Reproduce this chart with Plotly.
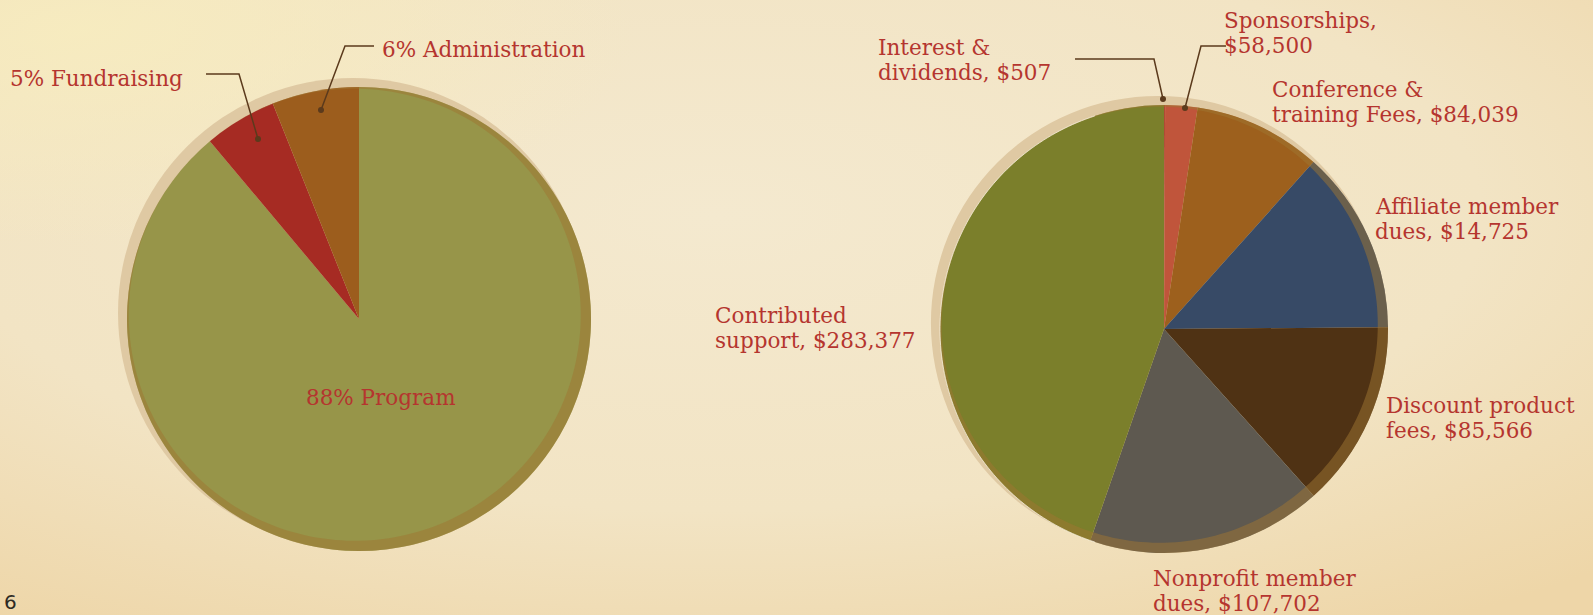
import base64
import numpy as np
import plotly.graph_objects as go

W, H = 1593, 615

# ---------------- data ----------------
exp_labels = ["Program", "Fundraising", "Administration"]
exp_pct = [88, 5, 6]
exp_colors = ["#979549", "#a62b23", "#9c5d1d"]

rev_labels = ["Interest & dividends", "Affiliate member dues", "Sponsorships",
              "Conference & training Fees", "Discount product fees",
              "Nonprofit member dues", "Contributed support"]
rev_values = [507, 14725, 58500, 84039, 85566, 107702, 283377]
rev_colors = ["#b04a35", "#c0553b", "#9d601d", "#374a66", "#4f3214", "#5e5950", "#7b7f2b"]
# how each label is split on two lines (first line)
rev_line1 = ["Interest &", "Affiliate member", "Sponsorships,", "Conference &",
             "Discount product", "Nonprofit member", "Contributed"]


def X(px):
    return px / W


def Y(py):
    return 1 - py / H


def dom(cx, cy, r):
    return dict(x=[X(cx - r), X(cx + r)], y=[Y(cy + r), Y(cy - r)])


# geometry (pixels)
L_C, L_R = (359, 319), 232
R_C, R_R = (1164, 329), 224

fig = go.Figure()

# halo discs
for (cx, cy), r in [(L_C, L_R), (R_C, R_R)]:
    fig.add_trace(go.Pie(values=[1], labels=["halo"], marker=dict(colors=["#dfc9a3"]),
                         domain=dom(cx - 6, cy - 6, r + 3), textinfo="none",
                         hoverinfo="skip", showlegend=False, sort=False))

fig.add_trace(go.Pie(values=exp_pct, labels=exp_labels, marker=dict(colors=exp_colors, line=dict(width=0)),
                     domain=dom(L_C[0], L_C[1], L_R), textinfo="none", sort=False,
                     direction="clockwise", showlegend=False))

fig.add_trace(go.Pie(values=rev_values, labels=rev_labels, marker=dict(colors=rev_colors, line=dict(width=0)),
                     domain=dom(R_C[0], R_C[1], R_R), textinfo="none", sort=False,
                     direction="clockwise", showlegend=False))

shapes = []


def poly_path(pts):
    return "M" + " L".join(f"{X(x):.5f},{Y(y):.5f}" for x, y in pts)


def circle_pts(cx, cy, r, a0=0, a1=2 * np.pi, n=240):
    t = np.linspace(a0, a1, n)
    return list(zip(cx + r * np.cos(t), cy + r * np.sin(t)))


# rim crescent (inner shadow on lower-right)
for (cx, cy), r in [(L_C, L_R), (R_C, R_R)]:
    d = 6.0
    outer = circle_pts(cx, cy, r)
    inner = circle_pts(cx - d * 0.7071, cy - d * 0.7071, r - d)[::-1]
    path = poly_path(outer) + " Z " + poly_path(inner) + " Z"
    shapes.append(dict(type="path", xref="paper", yref="paper", path=path,
                       fillcolor="rgba(160,118,50,0.5)", line=dict(width=0), fillrule="evenodd"))

# thin light outline on the left of the revenue pie
arc = circle_pts(R_C[0], R_C[1], R_R, np.pi * 0.6, np.pi * 1.4, 120)
shapes.append(dict(type="path", xref="paper", yref="paper", path=poly_path(arc),
                   line=dict(color="rgba(255,250,235,0.7)", width=1)))

# leader lines with dots
leaders = [
    [(206, 74), (239, 74), (258, 139)],
    [(374, 46), (345, 46), (321, 110)],
    [(1075, 59), (1154, 59), (1163, 99)],
    [(1226, 46), (1201, 46), (1185, 108)],
]
for pts in leaders:
    shapes.append(dict(type="path", xref="paper", yref="paper", path=poly_path(pts),
                       line=dict(color="#5b3a1c", width=1.5)))
    ex, ey = pts[-1]
    shapes.append(dict(type="circle", xref="paper", yref="paper",
                       x0=X(ex - 3), x1=X(ex + 3), y0=Y(ey + 3), y1=Y(ey - 3),
                       fillcolor="#5b3a1c", line=dict(width=0)))

TXT = dict(family="DejaVu Serif, serif", size=21.5, color="#b5352f")
ann = []


def add_text(text, x, y, anchor="left"):
    ann.append(dict(text=text, x=X(x), y=Y(y), xref="paper", yref="paper",
                    xanchor=anchor, yanchor="middle", showarrow=False, font=TXT))


# expense labels
exp_pos = {"Program": (381, 398, "center"), "Fundraising": (8, 79, "left"), "Administration": (380, 49, "left")}
for lab, p in zip(exp_labels, exp_pct):
    x, y, anc = exp_pos[lab]
    add_text(f"{p}% {lab}", x, y, anc)

# revenue labels (two lines each, tight leading)
LEAD = 24.5
rev_pos = [(876, 60), (1373, 219), (1222, 33), (1270, 102), (1384, 418), (1151, 591), (713, 328)]
for lab, l1, v, (x, y) in zip(rev_labels, rev_line1, rev_values, rev_pos):
    if l1.endswith(","):
        second = f"${v:,}"
    else:
        rest = lab[len(l1):].strip()
        second = (rest + ", " if rest else "") + f"${v:,}"
    add_text(l1, x, y - LEAD / 2)
    add_text(second, x, y + LEAD / 2)

ann.append(dict(text="6", x=X(2), y=Y(602), xref="paper", yref="paper", xanchor="left",
                yanchor="middle", showarrow=False,
                font=dict(family="DejaVu Sans, sans-serif", size=20, color="#2e2a24")))

# parchment background as an inline svg gradient
svg = f"""<svg xmlns='http://www.w3.org/2000/svg' width='{W}' height='{H}'>
<defs>
<radialGradient id='g' cx='0.45' cy='0.35' r='0.8'>
<stop offset='0' stop-color='#f4e9cf'/>
<stop offset='0.6' stop-color='#f2e4c4'/>
<stop offset='1' stop-color='#eed6a8'/>
</radialGradient>
<radialGradient id='h' cx='0.05' cy='0.05' r='0.35'>
<stop offset='0' stop-color='#f7ecbf' stop-opacity='0.9'/>
<stop offset='1' stop-color='#f7ecbf' stop-opacity='0'/>
</radialGradient>
</defs>
<rect width='100%' height='100%' fill='url(#g)'/>
<rect width='100%' height='100%' fill='url(#h)'/>
</svg>"""
src = "data:image/svg+xml;base64," + base64.b64encode(svg.encode()).decode()

fig.update_layout(
    width=W, height=H, margin=dict(l=0, r=0, t=0, b=0),
    paper_bgcolor="#f2e4c3", plot_bgcolor="rgba(0,0,0,0)",
    showlegend=False, shapes=shapes, annotations=ann,
    images=[dict(source=src, xref="paper", yref="paper", x=0, y=1, sizex=1, sizey=1,
                 xanchor="left", yanchor="top", sizing="stretch", layer="below")],
)

fig.write_html("out.html", config={"displayModeBar": False},
               post_script="document.body.style.margin='0';document.body.style.overflow='hidden';")
